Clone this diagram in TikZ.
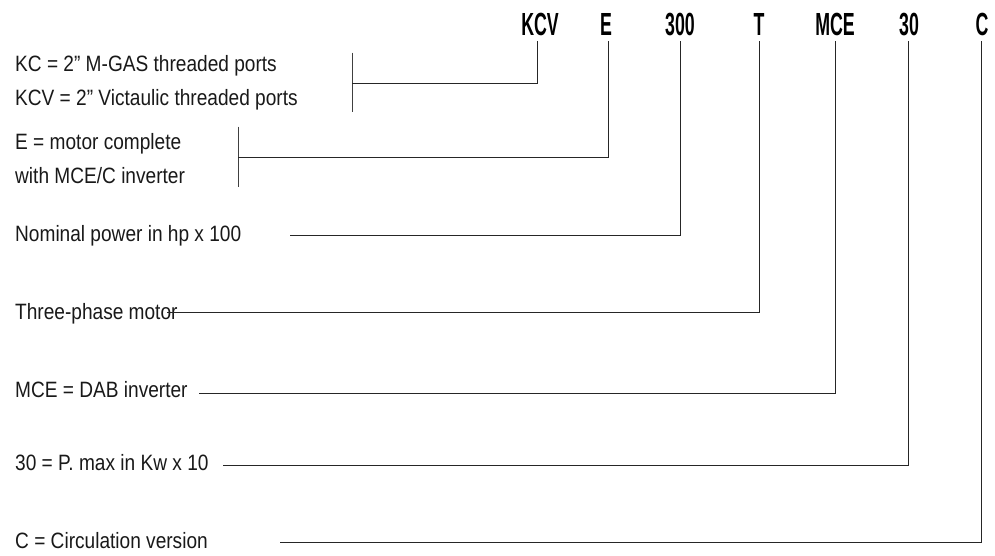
\documentclass[tikz,border=0pt]{standalone}
\usepackage{fontspec}
\setmainfont{Liberation Sans}[FakeStretch=0.86]
\newfontfamily\hdrfont{Liberation Sans}[FakeStretch=0.555]
\begin{document}
\begin{tikzpicture}[x=1pt,y=-1pt,
  code/.style={font=\hdrfont\bfseries\fontsize{32}{34}\selectfont, anchor=base, inner sep=0pt, text=black},
  desc/.style={font=\fontsize{22.2}{24}\selectfont, anchor=base west, inner sep=0pt, text=black!90},
  lead/.style={line width=0.8pt, black!85},
  brk/.style={line width=0.8pt, black!75}]
\useasboundingbox (0,0) rectangle (995,555);
% codes
\node[code] (kcv) at (540,35) {KCV};
\node[code] (e)   at (606,35) {E};
\node[code] (p300) at (680,35) {300};
\node[code] (t)   at (759,35) {T};
\node[code] (mce) at (835,35) {MCE};
\node[code] (p30) at (909,35) {30};
\node[code] (c)   at (982,35) {C};
% descriptions
\node[desc] (d1a) at (15,71) {KC = 2” M-GAS threaded ports};
\node[desc] (d1b) at (15,105) {KCV = 2” Victaulic threaded ports};
\node[desc] (d2a) at (15,149) {E = motor complete};
\node[desc] (d2b) at (15,183) {with MCE/C inverter};
\node[desc] (d3) at (15,241.7) {Nominal power in hp x 100};
\node[desc] (d4) at (15,319) {Three-phase motor};
\node[desc] (d5) at (15,397) {MCE = DAB inverter};
\node[desc] (d6) at (15,470) {30 = P. max in Kw x 10};
\node[desc] (d7) at (15,548) {C = Circulation version};
% line tops and ends
\coordinate (kcvt) at (537,41);   \coordinate (b1) at (352,83.3);
\coordinate (b1t) at (352,52.7);  \coordinate (b1b) at (352,111.7);
\coordinate (et) at (608,41);     \coordinate (b2) at (238.3,157.7);
\coordinate (b2t) at (238.3,126.7); \coordinate (b2b) at (238.3,186.7);
\coordinate (p300t) at (680,41);  \coordinate (l3) at (290,235);
\coordinate (tt) at (759.3,41);   \coordinate (l4) at (167,312);
\coordinate (mcet) at (835.3,41); \coordinate (l5) at (199,393);
\coordinate (p30t) at (908.3,41); \coordinate (l6) at (223,465);
\coordinate (ct) at (981.7,41);   \coordinate (l7) at (280,542.3);
% brackets
\draw[brk] (b1t) -- (b1b);
\draw[brk] (b2t) -- (b2b);
% leaders
\draw[lead] (kcvt) |- (b1);
\draw[lead] (et) |- (b2);
\draw[lead] (p300t) |- (l3);
\draw[lead] (tt) |- (l4);
\draw[lead] (mcet) |- (l5);
\draw[lead] (p30t) |- (l6);
\draw[lead] (ct) |- (l7);
\end{tikzpicture}
\end{document}
